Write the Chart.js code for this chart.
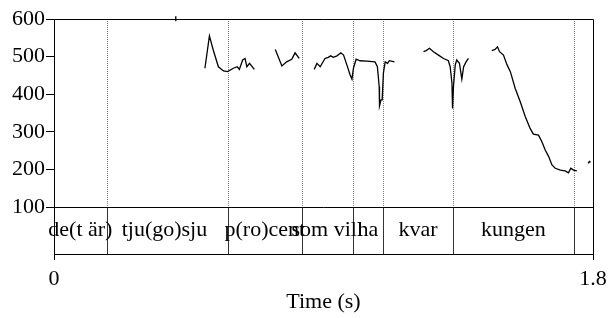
<!DOCTYPE html>
<html>
<head>
<meta charset="utf-8">
<script src="https://cdn.jsdelivr.net/npm/chart.js@4/dist/chart.umd.min.js"></script>
<style>
  body { margin: 0; background: #fff; }
  #wrap { width: 613px; height: 318px; position: relative; }
</style>
</head>
<body>
<div id="wrap"><canvas id="myChart"></canvas></div>
<script>
// pitch track (s, Hz); null breaks the contour into voiced stretches
var pitchTimes = [
  0.4065, 0.4068, null,
  0.504, 0.519, 0.532, 0.549, 0.566, 0.580, 0.599, 0.612, 0.619, 0.630, 0.638, 0.644, 0.653, 0.669, null,
  0.739, 0.761, 0.777, 0.794, 0.805, 0.819, null,
  0.869, 0.878, 0.889, 0.905, 0.916, 0.924, 0.933, 0.945, 0.958, 0.967, 0.978, 0.989, 0.995, 1.000,
  1.009, 1.022, 1.045, 1.072, 1.080, 1.086, 1.087, 1.092, 1.096, 1.100, 1.106, 1.114, 1.120, 1.137, null,
  1.234, 1.243, 1.254, 1.267, 1.284, 1.301, 1.317, 1.323, 1.329, 1.331, 1.334, 1.340, 1.345, 1.354,
  1.362, 1.368, 1.376, 1.384, null,
  1.462, 1.473, 1.481, 1.488, 1.501, 1.513, 1.524, 1.540, 1.557, 1.574, 1.590, 1.601, 1.618, 1.629,
  1.640, 1.652, 1.663, 1.674, 1.691, 1.707, 1.718, 1.726, 1.735, 1.746, null,
  1.784, 1.788, 1.792
];
var pitchHz = [
  607, 594, null,
  469, 555, 517, 473, 462, 460, 469, 473, 466, 491, 495, 473, 482, 466, null,
  519, 475, 486, 493, 510, 495, null,
  466, 482, 473, 495, 498, 502, 498, 502, 510, 504, 478, 451, 440, 469,
  493, 489, 488, 486, 473, 420, 369, 385, 385, 456, 486, 482, 489, 486, null,
  513, 516, 522, 513, 504, 495, 489, 473, 429, 362, 420, 478, 491, 482,
  440, 473, 486, 495, null,
  516, 519, 526, 513, 504, 478, 460, 416, 380, 340, 309, 294, 291, 274,
  252, 234, 212, 203, 198, 196, 191, 203, 198, 196, null,
  216, 221, 219
];

// word tier
var wordBounds = [0.176, 0.580, 0.828, 0.997, 1.100, 1.331, 1.737];
var words = ["de(t är)", "tju(go)sju ", "p(ro)cent", "som vill", "ha", "kvar", "kungen", ""];

var yTicks = [100, 200, 300, 400, 500, 600];
var xTicks = [0, 1.8];
var tMin = 0, tMax = 1.8;
var fTierTop = 100, fMin = -25, fMax = 600;

var pts = [];
for (var i = 0; i < pitchTimes.length; i++) {
  if (pitchTimes[i] === null) pts.push({x: pts[pts.length - 1].x + 0.0001, y: null});
  else pts.push({x: pitchTimes[i], y: pitchHz[i]});
}

var serif = "'Liberation Serif', 'Times New Roman', serif";
Chart.defaults.font.family = serif;
Chart.defaults.color = '#000';

var tierPlugin = {
  id: 'tier',
  beforeDatasetsDraw: function(chart) {
    var ctx = chart.ctx, a = chart.chartArea;
    var x = chart.scales.x, y = chart.scales.y;
    var yTop = Math.round(y.getPixelForValue(fTierTop)) + 0.5;
    ctx.save();
    ctx.lineWidth = 1;
    // dotted boundary lines through the pitch area
    ctx.strokeStyle = '#7a7a7a';
    ctx.setLineDash([1, 1]);
    wordBounds.forEach(function(t) {
      var px = Math.round(x.getPixelForValue(t)) + 0.5;
      ctx.beginPath(); ctx.moveTo(px, a.top); ctx.lineTo(px, yTop); ctx.stroke();
    });
    ctx.setLineDash([]);
    // solid boundaries in the tier
    ctx.strokeStyle = '#333';
    wordBounds.forEach(function(t) {
      var px = Math.round(x.getPixelForValue(t)) + 0.5;
      ctx.beginPath(); ctx.moveTo(px, yTop); ctx.lineTo(px, a.bottom); ctx.stroke();
    });
    // frame
    ctx.strokeStyle = '#000';
    var top = Math.round(a.top) + 0.5, right = Math.round(a.right) + 0.5;
    ctx.beginPath();
    ctx.moveTo(a.left, top); ctx.lineTo(right, top); ctx.lineTo(right, a.bottom);
    ctx.moveTo(a.left, yTop); ctx.lineTo(right, yTop);
    ctx.stroke();
    // labels
    var edges = [tMin].concat(wordBounds, [tMax]);
    ctx.font = '22px ' + serif;
    ctx.fillStyle = '#000';
    ctx.textAlign = 'center';
    ctx.textBaseline = 'alphabetic';
    words.forEach(function(w, k) {
      var cx = (x.getPixelForValue(edges[k]) + x.getPixelForValue(edges[k + 1])) / 2;
      ctx.fillText(w, cx, yTop + 28);
    });
    ctx.restore();
  }
};

new Chart(document.getElementById('myChart'), {
  type: 'line',
  data: {
    datasets: [{
      data: pts,
      borderColor: '#000',
      borderWidth: 1.3,
      pointRadius: 0,
      tension: 0,
      spanGaps: false,
      clip: {left: 0, top: 4, right: 0, bottom: 0}
    }]
  },
  options: {
    responsive: true,
    maintainAspectRatio: false,
    animation: false,
    devicePixelRatio: 1,
    layout: { padding: { top: 19, right: 20, left: 0, bottom: 0 } },
    plugins: { legend: { display: false }, tooltip: { enabled: false } },
    scales: {
      x: {
        type: 'linear',
        min: tMin, max: tMax,
        afterBuildTicks: function(s) { s.ticks = xTicks.map(function(v) { return {value: v}; }); },
        afterFit: function(s) { s.height = 64; },
        grid: { drawOnChartArea: false, tickLength: 6, color: '#000' },
        border: { color: '#000' },
        ticks: {
          autoSkip: false, maxRotation: 0, padding: 6,
          font: { size: 22 }, color: '#000',
          callback: function(v) { return String(v); }
        },
        title: { display: true, text: 'Time (s)', font: { size: 22 }, color: '#000', padding: { top: 0, bottom: 3 } }
      },
      y: {
        min: fMin, max: fMax,
        afterBuildTicks: function(s) { s.ticks = yTicks.map(function(v) { return {value: v}; }); },
        afterFit: function(s) { s.width = 54; },
        grid: { drawOnChartArea: false, tickLength: 8, color: '#000' },
        border: { color: '#000' },
        ticks: { padding: 1, font: { size: 22 }, color: '#000' }
      }
    }
  },
  plugins: [tierPlugin]
});
</script>
</body>
</html>
